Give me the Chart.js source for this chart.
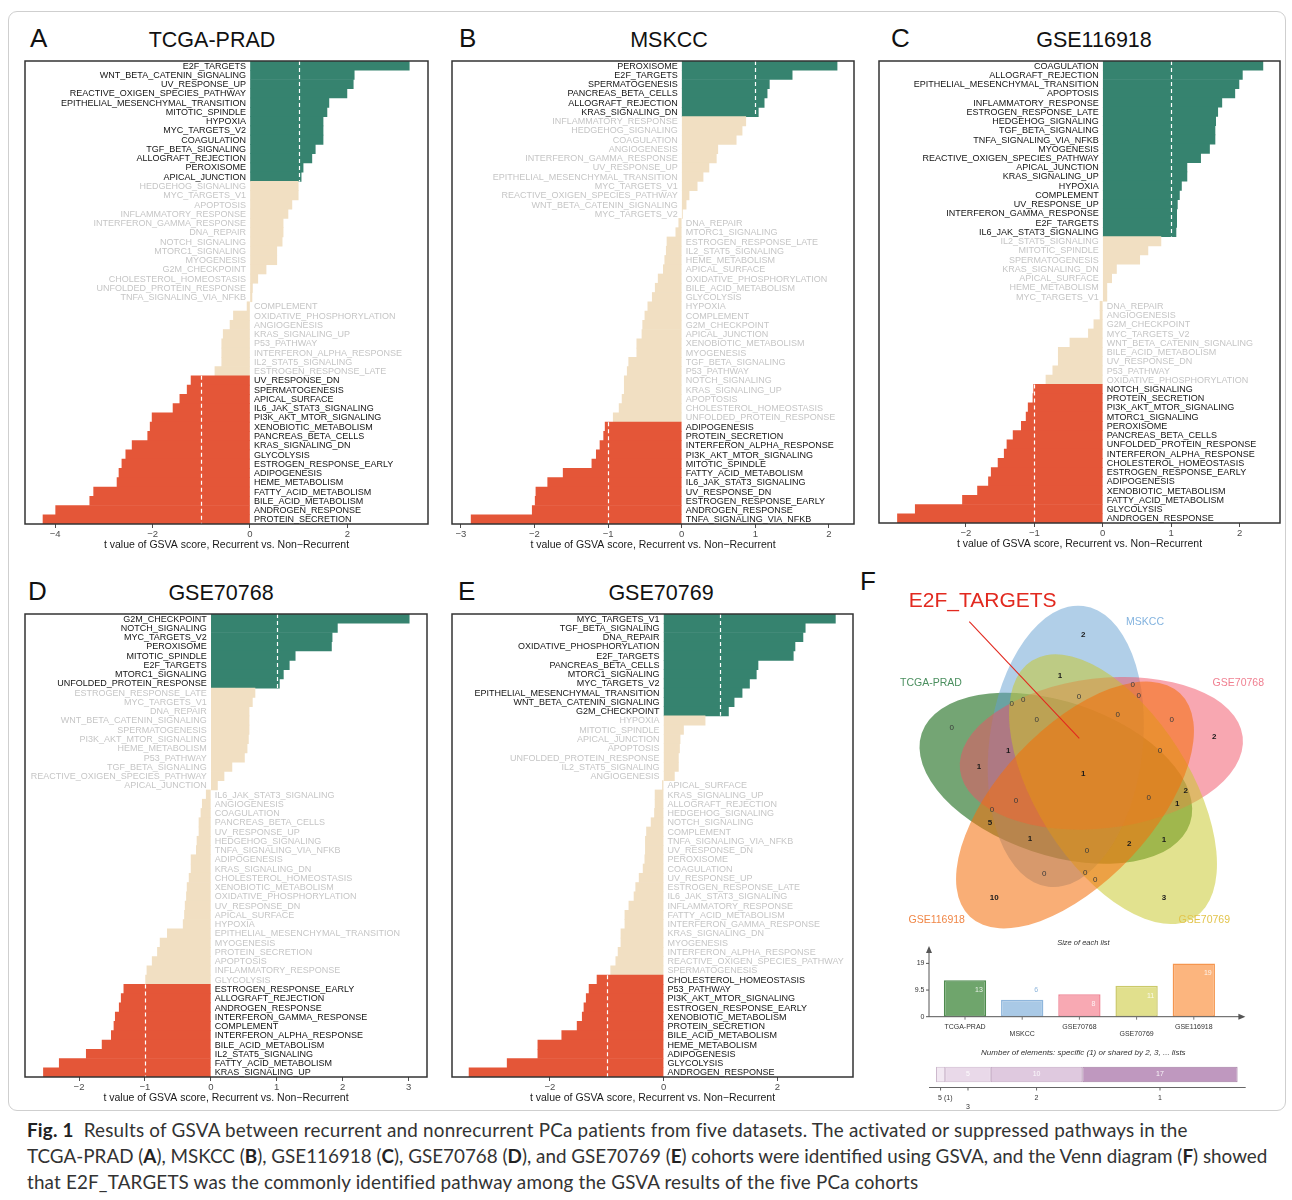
<!DOCTYPE html>
<html>
<head>
<meta charset="utf-8">
<title>GSVA: recurrent vs non-recurrent PCa</title>
<script src="https://cdn.jsdelivr.net/npm/chart.js@4.4.1/dist/chart.umd.min.js"></script>
<style>
  html, body { margin: 0; padding: 0; background: #fff; }
  body { width: 1292px; height: 1200px; position: relative; overflow: hidden;
         font-family: "Liberation Sans", Arial, Helvetica, sans-serif; }
  .box { position: absolute; left: 8px; top: 11px; width: 1276px; height: 1098px;
         border: 1px solid #cfcfcf; border-radius: 9px; }
  canvas { position: absolute; }
  .tag { position: absolute; font-size: 26px; line-height: 26px; color: #111; }
  .ttl { position: absolute; font-size: 21.5px; line-height: 22px; color: #111;
         transform: translate(-50%, -50%); white-space: nowrap; }
  #cap { position: absolute; left: 27px; top: 1117px; font-family: Lato, "Noto Sans", sans-serif;
         font-size: 18px; line-height: 26px; color: #333; white-space: nowrap; }
  #cap b { color: #222; }
</style>
</head>
<body>
<div class="box"></div>

<div class="tag" style="left:30px;top:25px">A</div>
<div class="tag" style="left:459px;top:25px">B</div>
<div class="tag" style="left:891px;top:25px">C</div>
<div class="tag" style="left:28px;top:578px">D</div>
<div class="tag" style="left:458px;top:578px">E</div>
<div class="tag" style="left:860px;top:568px">F</div>

<div class="ttl" id="tA" style="left:212px;top:40px"></div>
<div class="ttl" id="tB" style="left:669px;top:40px"></div>
<div class="ttl" id="tC" style="left:1094px;top:40px"></div>
<div class="ttl" id="tD" style="left:221px;top:593px"></div>
<div class="ttl" id="tE" style="left:661px;top:593px"></div>

<canvas id="pA"></canvas>
<canvas id="pB"></canvas>
<canvas id="pC"></canvas>
<canvas id="pD"></canvas>
<canvas id="pE"></canvas>
<canvas id="venn"></canvas>
<canvas id="sizes"></canvas>
<canvas id="shared"></canvas>

<div id="cap"><span id="cap1"><b>Fig. 1</b>&nbsp; Results of GSVA between recurrent and nonrecurrent PCa patients from five datasets. The activated or suppressed pathways in the</span><br><span id="cap2">TCGA-PRAD (<b>A</b>), MSKCC (<b>B</b>), GSE116918 (<b>C</b>), GSE70768 (<b>D</b>), and GSE70769 (<b>E</b>) cohorts were identified using GSVA, and the Venn diagram (<b>F</b>) showed</span><br><span id="cap3">that E2F_TARGETS was the commonly identified pathway among the GSVA results of the five PCa cohorts</span></div>

<script>
// ---------------- data ----------------
const cohorts = ['TCGA-PRAD', 'MSKCC', 'GSE116918', 'GSE70768', 'GSE70769'];

const pathwaysA = ['E2F_TARGETS','WNT_BETA_CATENIN_SIGNALING','UV_RESPONSE_UP','REACTIVE_OXIGEN_SPECIES_PATHWAY','EPITHELIAL_MESENCHYMAL_TRANSITION','MITOTIC_SPINDLE','HYPOXIA','MYC_TARGETS_V2','COAGULATION','TGF_BETA_SIGNALING','ALLOGRAFT_REJECTION','PEROXISOME','APICAL_JUNCTION','HEDGEHOG_SIGNALING','MYC_TARGETS_V1','APOPTOSIS','INFLAMMATORY_RESPONSE','INTERFERON_GAMMA_RESPONSE','DNA_REPAIR','NOTCH_SIGNALING','MTORC1_SIGNALING','MYOGENESIS','G2M_CHECKPOINT','CHOLESTEROL_HOMEOSTASIS','UNFOLDED_PROTEIN_RESPONSE','TNFA_SIGNALING_VIA_NFKB','COMPLEMENT','OXIDATIVE_PHOSPHORYLATION','ANGIOGENESIS','KRAS_SIGNALING_UP','P53_PATHWAY','INTERFERON_ALPHA_RESPONSE','IL2_STAT5_SIGNALING','ESTROGEN_RESPONSE_LATE','UV_RESPONSE_DN','SPERMATOGENESIS','APICAL_SURFACE','IL6_JAK_STAT3_SIGNALING','PI3K_AKT_MTOR_SIGNALING','XENOBIOTIC_METABOLISM','PANCREAS_BETA_CELLS','KRAS_SIGNALING_DN','GLYCOLYSIS','ESTROGEN_RESPONSE_EARLY','ADIPOGENESIS','HEME_METABOLISM','FATTY_ACID_METABOLISM','BILE_ACID_METABOLISM','ANDROGEN_RESPONSE','PROTEIN_SECRETION'];
const tA = [3.27,2.14,2.12,1.99,1.62,1.58,1.50,1.50,1.50,1.34,1.27,1.09,1.05,0.99,0.99,0.86,0.78,0.68,0.68,0.66,0.55,0.55,0.33,0.16,0.05,0.04,-0.06,-0.34,-0.41,-0.55,-0.58,-0.58,-0.58,-0.72,-1.21,-1.29,-1.44,-1.58,-2.01,-2.05,-2.10,-2.42,-2.55,-2.63,-2.69,-2.73,-3.21,-3.29,-3.99,-4.25];

const pathwaysB = ['PEROXISOME','E2F_TARGETS','SPERMATOGENESIS','PANCREAS_BETA_CELLS','ALLOGRAFT_REJECTION','KRAS_SIGNALING_DN','INFLAMMATORY_RESPONSE','HEDGEHOG_SIGNALING','COAGULATION','ANGIOGENESIS','INTERFERON_GAMMA_RESPONSE','UV_RESPONSE_UP','EPITHELIAL_MESENCHYMAL_TRANSITION','MYC_TARGETS_V1','REACTIVE_OXIGEN_SPECIES_PATHWAY','WNT_BETA_CATENIN_SIGNALING','MYC_TARGETS_V2','DNA_REPAIR','MTORC1_SIGNALING','ESTROGEN_RESPONSE_LATE','IL2_STAT5_SIGNALING','HEME_METABOLISM','APICAL_SURFACE','OXIDATIVE_PHOSPHORYLATION','BILE_ACID_METABOLISM','GLYCOLYSIS','HYPOXIA','COMPLEMENT','G2M_CHECKPOINT','APICAL_JUNCTION','XENOBIOTIC_METABOLISM','MYOGENESIS','TGF_BETA_SIGNALING','P53_PATHWAY','NOTCH_SIGNALING','KRAS_SIGNALING_UP','APOPTOSIS','CHOLESTEROL_HOMEOSTASIS','UNFOLDED_PROTEIN_RESPONSE','ADIPOGENESIS','PROTEIN_SECRETION','INTERFERON_ALPHA_RESPONSE','PI3K_AKT_MTOR_SIGNALING','MITOTIC_SPINDLE','FATTY_ACID_METABOLISM','IL6_JAK_STAT3_SIGNALING','UV_RESPONSE_DN','ESTROGEN_RESPONSE_EARLY','ANDROGEN_RESPONSE','TNFA_SIGNALING_VIA_NFKB'];
const tB = [2.11,1.50,1.19,1.16,1.12,1.04,0.87,0.82,0.74,0.49,0.47,0.37,0.29,0.21,0.10,0.06,0.01,-0.04,-0.08,-0.20,-0.21,-0.23,-0.25,-0.32,-0.36,-0.40,-0.46,-0.50,-0.53,-0.54,-0.61,-0.61,-0.72,-0.74,-0.78,-0.78,-0.81,-0.85,-0.93,-1.04,-1.06,-1.11,-1.16,-1.22,-1.61,-1.82,-1.98,-1.99,-2.03,-2.86];

const pathwaysC = ['COAGULATION','ALLOGRAFT_REJECTION','EPITHELIAL_MESENCHYMAL_TRANSITION','APOPTOSIS','INFLAMMATORY_RESPONSE','ESTROGEN_RESPONSE_LATE','HEDGEHOG_SIGNALING','TGF_BETA_SIGNALING','TNFA_SIGNALING_VIA_NFKB','MYOGENESIS','REACTIVE_OXIGEN_SPECIES_PATHWAY','APICAL_JUNCTION','KRAS_SIGNALING_UP','HYPOXIA','COMPLEMENT','UV_RESPONSE_UP','INTERFERON_GAMMA_RESPONSE','E2F_TARGETS','IL6_JAK_STAT3_SIGNALING','IL2_STAT5_SIGNALING','MITOTIC_SPINDLE','SPERMATOGENESIS','KRAS_SIGNALING_DN','APICAL_SURFACE','HEME_METABOLISM','MYC_TARGETS_V1','DNA_REPAIR','ANGIOGENESIS','G2M_CHECKPOINT','MYC_TARGETS_V2','WNT_BETA_CATENIN_SIGNALING','BILE_ACID_METABOLISM','UV_RESPONSE_DN','P53_PATHWAY','OXIDATIVE_PHOSPHORYLATION','NOTCH_SIGNALING','PROTEIN_SECRETION','PI3K_AKT_MTOR_SIGNALING','MTORC1_SIGNALING','PEROXISOME','PANCREAS_BETA_CELLS','UNFOLDED_PROTEIN_RESPONSE','INTERFERON_ALPHA_RESPONSE','CHOLESTEROL_HOMEOSTASIS','ESTROGEN_RESPONSE_EARLY','ADIPOGENESIS','XENOBIOTIC_METABOLISM','FATTY_ACID_METABOLISM','GLYCOLYSIS','ANDROGEN_RESPONSE'];
const tC = [2.34,2.04,1.99,1.93,1.74,1.68,1.65,1.64,1.64,1.56,1.43,1.23,1.23,1.15,1.12,1.09,1.08,1.08,1.07,0.85,0.66,0.54,0.20,0.13,0.06,0.06,-0.04,-0.04,-0.13,-0.21,-0.48,-0.65,-0.65,-0.73,-0.83,-1.01,-1.02,-1.09,-1.12,-1.19,-1.31,-1.40,-1.44,-1.53,-1.63,-1.67,-1.83,-2.05,-2.74,-3.00];

const pathwaysD = ['G2M_CHECKPOINT','NOTCH_SIGNALING','MYC_TARGETS_V2','PEROXISOME','MITOTIC_SPINDLE','E2F_TARGETS','MTORC1_SIGNALING','UNFOLDED_PROTEIN_RESPONSE','ESTROGEN_RESPONSE_LATE','MYC_TARGETS_V1','DNA_REPAIR','WNT_BETA_CATENIN_SIGNALING','SPERMATOGENESIS','PI3K_AKT_MTOR_SIGNALING','HEME_METABOLISM','P53_PATHWAY','TGF_BETA_SIGNALING','REACTIVE_OXIGEN_SPECIES_PATHWAY','APICAL_JUNCTION','IL6_JAK_STAT3_SIGNALING','ANGIOGENESIS','COAGULATION','PANCREAS_BETA_CELLS','UV_RESPONSE_UP','HEDGEHOG_SIGNALING','TNFA_SIGNALING_VIA_NFKB','ADIPOGENESIS','KRAS_SIGNALING_DN','CHOLESTEROL_HOMEOSTASIS','XENOBIOTIC_METABOLISM','OXIDATIVE_PHOSPHORYLATION','UV_RESPONSE_DN','APICAL_SURFACE','HYPOXIA','EPITHELIAL_MESENCHYMAL_TRANSITION','MYOGENESIS','PROTEIN_SECRETION','APOPTOSIS','INFLAMMATORY_RESPONSE','GLYCOLYSIS','ESTROGEN_RESPONSE_EARLY','ALLOGRAFT_REJECTION','ANDROGEN_RESPONSE','INTERFERON_GAMMA_RESPONSE','COMPLEMENT','INTERFERON_ALPHA_RESPONSE','BILE_ACID_METABOLISM','IL2_STAT5_SIGNALING','FATTY_ACID_METABOLISM','KRAS_SIGNALING_UP'];
const tD = [3.01,1.92,1.84,1.83,1.28,1.19,1.10,1.04,0.67,0.63,0.58,0.58,0.58,0.57,0.55,0.51,0.32,0.20,0.10,-0.07,-0.13,-0.15,-0.18,-0.18,-0.21,-0.22,-0.30,-0.30,-0.33,-0.36,-0.37,-0.39,-0.40,-0.42,-0.66,-0.77,-0.81,-0.89,-0.97,-0.99,-1.32,-1.36,-1.39,-1.45,-1.47,-1.51,-1.65,-1.89,-2.30,-2.54];

const pathwaysE = ['MYC_TARGETS_V1','TGF_BETA_SIGNALING','DNA_REPAIR','OXIDATIVE_PHOSPHORYLATION','E2F_TARGETS','PANCREAS_BETA_CELLS','MTORC1_SIGNALING','MYC_TARGETS_V2','EPITHELIAL_MESENCHYMAL_TRANSITION','WNT_BETA_CATENIN_SIGNALING','G2M_CHECKPOINT','HYPOXIA','MITOTIC_SPINDLE','APICAL_JUNCTION','APOPTOSIS','UNFOLDED_PROTEIN_RESPONSE','IL2_STAT5_SIGNALING','ANGIOGENESIS','APICAL_SURFACE','KRAS_SIGNALING_UP','ALLOGRAFT_REJECTION','HEDGEHOG_SIGNALING','NOTCH_SIGNALING','COMPLEMENT','TNFA_SIGNALING_VIA_NFKB','UV_RESPONSE_DN','PEROXISOME','COAGULATION','UV_RESPONSE_UP','ESTROGEN_RESPONSE_LATE','IL6_JAK_STAT3_SIGNALING','INFLAMMATORY_RESPONSE','FATTY_ACID_METABOLISM','INTERFERON_GAMMA_RESPONSE','KRAS_SIGNALING_DN','MYOGENESIS','INTERFERON_ALPHA_RESPONSE','REACTIVE_OXIGEN_SPECIES_PATHWAY','SPERMATOGENESIS','CHOLESTEROL_HOMEOSTASIS','P53_PATHWAY','PI3K_AKT_MTOR_SIGNALING','ESTROGEN_RESPONSE_EARLY','XENOBIOTIC_METABOLISM','PROTEIN_SECRETION','BILE_ACID_METABOLISM','HEME_METABOLISM','ADIPOGENESIS','GLYCOLYSIS','ANDROGEN_RESPONSE'];
const tE = [3.02,2.49,2.45,2.31,2.28,1.66,1.63,1.51,1.38,1.24,1.14,0.73,0.35,0.29,0.28,0.26,0.26,0.19,-0.02,-0.15,-0.15,-0.16,-0.22,-0.30,-0.32,-0.32,-0.33,-0.36,-0.43,-0.49,-0.52,-0.61,-0.68,-0.68,-0.75,-0.75,-0.80,-0.84,-0.93,-1.17,-1.31,-1.36,-1.40,-1.43,-1.52,-1.79,-2.21,-2.21,-2.75,-3.42];

// x-axis tick values of each panel
const ticksA = [-4, -2, 0, 2];
const ticksB = [-3, -2, -1, 0, 1, 2];
const ticksC = [-2, -1, 0, 1, 2];
const ticksD = [-2, -1, 0, 1, 2, 3];
const ticksE = [-2, 0, 2];

// Venn diagram of the significant pathways
const vennSets = ['TCGA-PRAD', 'MSKCC', 'GSE70768', 'GSE70769', 'GSE116918'];
const vennCounts = [2,1,0,0,0,0,0,0,0,0,2,0,1,0,1,1,2,0,1,0,0,5,1,2,1,0,0,0,0,10,3];
const highlighted = 'E2F_TARGETS';

const listNames = ['TCGA-PRAD', 'MSKCC', 'GSE70768', 'GSE70769', 'GSE116918'];
const listSizes = [13, 6, 8, 11, 19];
const sizeTicks = [0, 9.5, 19];

const shareDegrees = ['5', '3', '2', '1'];
const shareCounts = [1, 5, 10, 17];

// ---------------- styling / layout ----------------
const FONT = '"Liberation Sans", Arial, Helvetica, sans-serif';
Chart.defaults.font.family = FONT;
const GREEN = '#36836f', RED = '#e45638', BEIGE = '#f1dfc2';
const AXIS_TITLE = 't value of GSVA score, Recurrent vs. Non\u2212Recurrent';
const barColor = v => v > 1 ? GREEN : (v < -1 ? RED : BEIGE);
const fmtTick = v => v < 0 ? '\u2212' + Math.abs(v) : String(v);

['tA','tB','tC','tD','tE'].forEach((id, i) => document.getElementById(id).textContent = cohorts[i]);

// pathway names beside the zero line, white dashed cut-offs at |t| = 1, and the panel frame
const panelDecor = {
  id: 'panelDecor',
  afterDatasetsDraw(chart) {
    const { ctx, chartArea: a, scales: { x } } = chart;
    const meta = chart.getDatasetMeta(0);
    const vals = chart.data.datasets[0].data;
    ctx.save();
    ctx.strokeStyle = '#ffffff';
    ctx.lineWidth = 1.2;
    ctx.setLineDash([4, 3]);
    [1, -1].forEach(cut => {
      const idx = vals.map((v, i) => ((cut > 0 ? v > cut : v < cut) ? i : -1)).filter(i => i >= 0);
      if (!idx.length) return;
      const f = meta.data[idx[0]], l = meta.data[idx[idx.length - 1]];
      const px = Math.round(x.getPixelForValue(cut)) + 0.5;
      ctx.beginPath();
      ctx.moveTo(px, f.y - f.height / 2);
      ctx.lineTo(px, l.y + l.height / 2);
      ctx.stroke();
    });
    ctx.setLineDash([]);
    ctx.font = '9px ' + FONT;
    ctx.textBaseline = 'middle';
    const x0 = x.getPixelForValue(0);
    chart.data.labels.forEach((lab, i) => {
      const v = vals[i], yy = meta.data[i].y + 0.5;
      ctx.fillStyle = Math.abs(v) > 1 ? '#141414' : '#c6c6c6';
      if (v >= 0) { ctx.textAlign = 'right'; ctx.fillText(lab, x0 - 4, yy); }
      else { ctx.textAlign = 'left'; ctx.fillText(lab, x0 + 4, yy); }
    });
    ctx.strokeStyle = '#333';
    ctx.lineWidth = 1.5;
    ctx.strokeRect(a.left, a.top, a.right - a.left, a.bottom - a.top);
    ctx.restore();
  }
};

function makePanel(id, box, labels, values, range, ticks) {
  const padL = 25, padT = 12, padR = 15, padB = 10, axisH = 30;
  const cv = document.getElementById(id);
  cv.width = box.w + padL + padR;
  cv.height = box.h + padT + padB + axisH;
  cv.style.left = (box.x - padL) + 'px';
  cv.style.top = (box.y - padT) + 'px';
  new Chart(cv, {
    type: 'bar',
    data: { labels: labels, datasets: [{ data: values, backgroundColor: values.map(barColor),
            borderWidth: 0, barPercentage: 1, categoryPercentage: 1 }] },
    options: {
      indexAxis: 'y', responsive: false, animation: false, events: [],
      layout: { padding: { left: padL, top: padT, right: padR, bottom: padB } },
      plugins: { legend: { display: false }, tooltip: { enabled: false } },
      scales: {
        y: { display: false },
        x: {
          type: 'linear', min: range[0], max: range[1],
          afterFit(s) { s.height = axisH; },
          afterBuildTicks(s) { s.ticks = ticks.map(v => ({ value: v })); },
          ticks: { callback: fmtTick, color: '#4d4d4d', font: { size: 9.5 }, padding: 1,
                   maxRotation: 0, autoSkip: false },
          grid: { drawOnChartArea: false, drawTicks: true, tickLength: 4, color: '#4d4d4d' },
          border: { display: false },
          title: { display: true, text: AXIS_TITLE, color: '#1a1a1a', font: { size: 10.5 },
                   padding: { top: 0, bottom: 3 } }
        }
      }
    },
    plugins: [panelDecor]
  });
}

makePanel('pA', { x: 25,  y: 61,  w: 403, h: 463 }, pathwaysA, tA, [-4.62, 3.655], ticksA);
makePanel('pB', { x: 452, y: 61,  w: 402, h: 463 }, pathwaysB, tB, [-3.12, 2.34], ticksB);
makePanel('pC', { x: 879, y: 61,  w: 401, h: 462 }, pathwaysC, tC, [-3.27, 2.59], ticksC);
makePanel('pD', { x: 25,  y: 614, w: 402, h: 463 }, pathwaysD, tD, [-2.82, 3.28], ticksD);
makePanel('pE', { x: 452, y: 614, w: 401, h: 463 }, pathwaysE, tE, [-3.72, 3.33], ticksE);

// ---------------- Venn diagram ----------------
// long-axis end points and half-width of each ellipse (layout units of the Venn canvas)
const vennShapes = [
  { tips: [[61.7, 163.3], [330, 253.3]],   half: 76.7 },
  { tips: [[223.3, 36],   [188.3, 316.7]], half: 76.7 },
  { tips: [[382.7, 166.7],[100, 200]],     half: 75 },
  { tips: [[334.3, 347.7],[171.7, 90.7]],  half: 76.7 },
  { tips: [[110, 346.7],  [320, 123.3]],   half: 76.7 }
];
const vennFills = ['rgba(30,110,30,0.62)', 'rgba(100,160,210,0.5)', 'rgba(242,80,100,0.5)',
                   'rgba(200,200,40,0.52)', 'rgba(245,110,10,0.56)'];
const vennInk = ['#4b8f5f', '#83b3df', '#f07f90', '#e2c44c', '#f08646'];
const vennNameSpots = [[71, 113.3], [285, 52.3], [378.3, 113.3], [344.3, 350], [76.7, 350]];
// one spot per region, in the same order as vennCounts
const vennSpots = [[223.3,65],[200,105.3],[272.7,114.3],[278.7,125.3],[151.7,133.3],[163.3,129.3],[219,126.7],[176.7,150],[257.7,144.3],[311.7,150],[354.3,166.7],[91.7,157.3],[148.3,181],[300,181],[119,196.7],[223.3,204],[325.7,220.7],[288.7,227.3],[317.3,233.3],[156,230.7],[132,239.3],[130,252.3],[170,269],[269.3,273.3],[304,269.3],[227,281],[184.3,304],[225.3,302.7],[235.3,310],[134.3,327.3],[304,327.3]];
const calloutSpots = { text: [122.7, 31.7], from: [109.3, 51.7], to: [219.3, 168.3] };

const vennDecor = {
  id: 'vennDecor',
  beforeDatasetsDraw(chart) {
    const { ctx, scales: { x, y } } = chart;
    const P = t => [x.getPixelForValue(t[0]), y.getPixelForValue(t[1])];
    ctx.save();
    vennShapes.forEach((s, i) => {
      const [p, q] = s.tips.map(P);
      const a = Math.hypot(q[0] - p[0], q[1] - p[1]) / 2;
      const b = Math.abs(y.getPixelForValue(s.half) - y.getPixelForValue(0));
      ctx.beginPath();
      ctx.ellipse((p[0] + q[0]) / 2, (p[1] + q[1]) / 2, a, b, Math.atan2(q[1] - p[1], q[0] - p[0]), 0, Math.PI * 2);
      ctx.fillStyle = vennFills[i];
      ctx.fill();
    });
    ctx.restore();
  },
  afterDatasetsDraw(chart) {
    const { ctx, scales: { x, y } } = chart;
    const P = t => [x.getPixelForValue(t[0]), y.getPixelForValue(t[1])];
    const meta = chart.getDatasetMeta(0);
    ctx.save();
    ctx.textAlign = 'center';
    ctx.textBaseline = 'middle';
    meta.data.forEach((pt, i) => {
      const n = vennCounts[i];
      ctx.font = (n > 0 ? 'bold ' : '') + '8px ' + FONT;
      ctx.fillStyle = n > 0 ? '#1a1a1a' : '#3a3a3a';
      ctx.fillText(String(n), pt.x, pt.y);
    });
    ctx.font = '10.5px ' + FONT;
    vennSets.forEach((name, i) => {
      const p = P(vennNameSpots[i]);
      ctx.fillStyle = vennInk[i];
      ctx.fillText(name, p[0], p[1]);
    });
    const t = P(calloutSpots.text), f = P(calloutSpots.from), e = P(calloutSpots.to);
    ctx.font = '21px ' + FONT;
    ctx.fillStyle = '#e2291f';
    ctx.fillText(highlighted, t[0], t[1]);
    ctx.strokeStyle = '#e2291f';
    ctx.lineWidth = 1.1;
    ctx.beginPath(); ctx.moveTo(f[0], f[1]); ctx.lineTo(e[0], e[1]); ctx.stroke();
    ctx.restore();
  }
};

(function () {
  const cv = document.getElementById('venn');
  cv.width = 430; cv.height = 360;
  cv.style.left = '860px'; cv.style.top = '570px';
  new Chart(cv, {
    type: 'scatter',
    data: { datasets: [{ data: vennSpots.map(p => ({ x: p[0], y: p[1] })), pointRadius: 0 }] },
    options: {
      responsive: false, animation: false, events: [],
      layout: { padding: 0 },
      plugins: { legend: { display: false }, tooltip: { enabled: false } },
      scales: { x: { type: 'linear', min: 0, max: 430, display: false },
                y: { type: 'linear', min: 0, max: 360, reverse: true, display: false } }
    },
    plugins: [vennDecor]
  });
})();

// ---------------- size of each list ----------------
const sizeFills = ['#6fa56c', '#a9c9e6', '#f8a9b3', '#e1e08d', '#fcb57e'];
const sizeEdges = ['#4d8a4d', '#8fb6dc', '#f08596', '#cbc96a', '#f5964f'];

const sizeDecor = {
  id: 'sizeDecor',
  afterDraw(chart) {
    const { ctx, chartArea: a, scales: { y } } = chart;
    const meta = chart.getDatasetMeta(0);
    const ax = a.left - 7.4, ay = y.getPixelForValue(0);
    const xr = a.right + 23;
    ctx.save();
    ctx.strokeStyle = '#555'; ctx.fillStyle = '#555'; ctx.lineWidth = 1;
    ctx.beginPath(); ctx.moveTo(ax, ay); ctx.lineTo(ax, a.top + 6); ctx.stroke();
    ctx.beginPath(); ctx.moveTo(ax, a.top); ctx.lineTo(ax - 3, a.top + 7); ctx.lineTo(ax + 3, a.top + 7); ctx.closePath(); ctx.fill();
    ctx.beginPath(); ctx.moveTo(ax, ay); ctx.lineTo(xr - 6, ay); ctx.stroke();
    ctx.beginPath(); ctx.moveTo(xr, ay); ctx.lineTo(xr - 7, ay - 3); ctx.lineTo(xr - 7, ay + 3); ctx.closePath(); ctx.fill();
    ctx.font = '7px ' + FONT;
    ctx.textBaseline = 'middle';
    sizeTicks.forEach(v => {
      const py = y.getPixelForValue(v);
      ctx.beginPath(); ctx.moveTo(ax - 3, py); ctx.lineTo(ax, py); ctx.stroke();
      ctx.fillStyle = '#333'; ctx.textAlign = 'right';
      ctx.fillText(String(v), ax - 4.5, py);
    });
    meta.data.forEach((el, i) => {
      ctx.strokeStyle = '#777';
      ctx.beginPath(); ctx.moveTo(el.x, ay); ctx.lineTo(el.x, ay + 3); ctx.stroke();
      ctx.fillStyle = '#333'; ctx.textAlign = 'center';
      ctx.fillText(listNames[i], el.x, ay + (i % 2 ? 17.6 : 10));
      const h = el.base - el.y;
      if (h >= 20) { ctx.fillStyle = 'rgba(255,255,255,0.85)'; ctx.fillText(String(listSizes[i]), el.x + 14, el.y + 10); }
      else { ctx.fillStyle = sizeEdges[i]; ctx.fillText(String(listSizes[i]), el.x + 14, el.y - 10); }
    });
    ctx.font = 'italic 7.5px ' + FONT;
    ctx.fillStyle = '#333';
    ctx.fillText('Size of each list', (a.left + a.right) / 2 + 4, a.top - 3.5);
    ctx.restore();
  }
};

(function () {
  const cv = document.getElementById('sizes');
  cv.width = 380; cv.height = 115;
  cv.style.left = '880px'; cv.style.top = '930px';
  new Chart(cv, {
    type: 'bar',
    data: { labels: listNames, datasets: [{ data: listSizes, backgroundColor: sizeFills, borderColor: sizeEdges,
            borderWidth: 1.5, borderSkipped: false, barPercentage: 0.74, categoryPercentage: 1 }] },
    options: {
      responsive: false, animation: false, events: [],
      layout: { padding: { left: 56.4, right: 37.6, top: 16, bottom: 28.3 } },
      plugins: { legend: { display: false }, tooltip: { enabled: false } },
      scales: { x: { display: false }, y: { display: false, min: 0, max: 25.2 } }
    },
    plugins: [sizeDecor]
  });
})();

// ---------------- elements shared by 1..5 lists ----------------
const shareFills = ['#f2e8f2', '#e9d9e9', '#dfc9df', '#bf98bf'];
const shareEdges = ['#cdb9cd', '#cdb5cd', '#c4a8c4', '#a27ca2'];

const shareDecor = {
  id: 'shareDecor',
  afterDraw(chart) {
    const { ctx, chartArea: a, scales: { x } } = chart;
    const axisY = a.bottom + 4.5;
    ctx.save();
    ctx.strokeStyle = '#666'; ctx.lineWidth = 1;
    ctx.beginPath(); ctx.moveTo(a.left - 7, axisY); ctx.lineTo(a.right + 8, axisY); ctx.stroke();
    ctx.font = '7px ' + FONT;
    ctx.textBaseline = 'middle';
    let cum = 0, prevX = -1e9, low = false;
    shareCounts.forEach((c, i) => {
      const x1 = x.getPixelForValue(cum), x2 = x.getPixelForValue(cum + c);
      const cx = (x1 + x2) / 2;
      cum += c;
      ctx.beginPath(); ctx.moveTo(cx, axisY); ctx.lineTo(cx, axisY + 3); ctx.stroke();
      low = (cx - prevX < 30) ? !low : false;
      const ty = axisY + (low ? 19.7 : 11);
      ctx.fillStyle = '#333';
      if (x2 - x1 < 18) {
        ctx.textAlign = 'left';
        ctx.fillText(shareDegrees[i] + ' (' + c + ')', cx - 2.5, ty);
      } else {
        ctx.textAlign = 'center';
        ctx.fillText(shareDegrees[i], cx, ty);
        ctx.fillStyle = 'rgba(255,255,255,0.9)';
        ctx.fillText(String(c), cx, (a.top + a.bottom) / 2);
      }
      prevX = cx;
    });
    ctx.font = 'italic 8px ' + FONT;
    ctx.fillStyle = '#333';
    ctx.textAlign = 'center';
    ctx.fillText('Number of elements: specific (1) or shared by 2, 3, ... lists', (a.left + a.right) / 2 - 3.5, 7.7);
    ctx.restore();
  }
};

(function () {
  const cv = document.getElementById('shared');
  cv.width = 380; cv.height = 70;
  cv.style.left = '880px'; cv.style.top = '1045px';
  new Chart(cv, {
    type: 'bar',
    data: { labels: [''], datasets: shareCounts.map((c, i) => ({
      label: shareDegrees[i], data: [c], backgroundColor: shareFills[i], borderColor: shareEdges[i],
      borderWidth: 1, borderSkipped: false, barPercentage: 1, categoryPercentage: 0.92 })) },
    options: {
      indexAxis: 'y', responsive: false, animation: false, events: [],
      layout: { padding: { left: 56, right: 22.3, top: 21, bottom: 32 } },
      plugins: { legend: { display: false }, tooltip: { enabled: false } },
      scales: { x: { display: false, stacked: true, min: 0, max: shareCounts.reduce((s, v) => s + v, 0) },
                y: { display: false, stacked: true } }
    },
    plugins: [shareDecor]
  });
})();

// caption: size from the second line, then even out the other two lines
(function () {
  const cap = document.getElementById('cap');
  const l2 = document.getElementById('cap2');
  const w = l2.getBoundingClientRect().width;
  if (w > 0) cap.style.fontSize = (18 * 1241 / w).toFixed(2) + 'px';
  [['cap1', 1161], ['cap3', 891]].forEach(([id, target]) => {
    const el = document.getElementById(id);
    const cur = el.getBoundingClientRect().width;
    const n = el.textContent.length;
    if (cur > 0 && n > 1) el.style.letterSpacing = ((target - cur) / n).toFixed(3) + 'px';
  });
})();
</script>
</body>
</html>
